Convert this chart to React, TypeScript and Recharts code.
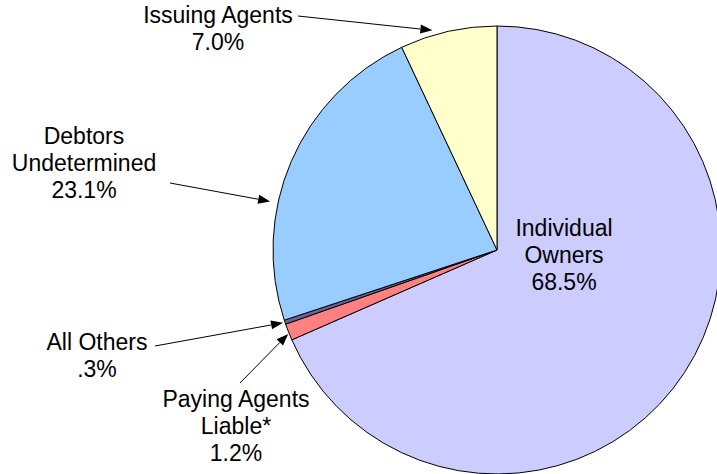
import { PieChart, Pie, Cell } from 'recharts'

const categories = ['Individual Owners', 'Paying Agents Liable*', 'All Others', 'Debtors Undetermined', 'Issuing Agents']
const shares = [68.5, 1.2, 0.3, 23.1, 7.0]
const shareLabels = ['68.5%', '1.2%', '.3%', '23.1%', '7.0%']
const nameLines = [['Individual', 'Owners'], ['Paying Agents', 'Liable*'], ['All Others'], ['Debtors', 'Undetermined'], ['Issuing Agents']]
const colors = ['#CCCCFF', '#FF8080', '#666699', '#99CCFF', '#FFFFCC']

// label layout: text anchor (center x, first baseline y), arrow tail, tip angle shift / radius
const textPos = [
  { x: 564, y: 236 },
  { x: 236, y: 407 },
  { x: 97, y: 350 },
  { x: 84, y: 144 },
  { x: 218, y: 23 },
]
const arrowFrom: ({ x: number; y: number } | null)[] = [
  null,
  { x: 240, y: 383 },
  { x: 155, y: 346 },
  { x: 170, y: 183 },
  { x: 298, y: 16 },
]
const tipShift = [0, 0.4, 0, 11.2, 3.8]
const tipGap = [0, 1, 2, 8, 5]

const data = categories.map((name, i) => ({ name, value: shares[i] }))

const RAD = Math.PI / 180
const LINE_H = 27

function renderLabel(props: any) {
  const { cx, cy, midAngle, outerRadius, index } = props
  const lines = [...nameLines[index], shareLabels[index]]
  const pos = textPos[index]
  const from = arrowFrom[index]
  let arrow = null
  if (from) {
    const a = (midAngle + tipShift[index]) * RAD
    const r = outerRadius + tipGap[index]
    const tx = cx + r * Math.cos(a)
    const ty = cy - r * Math.sin(a)
    const dx = tx - from.x
    const dy = ty - from.y
    const len = Math.sqrt(dx * dx + dy * dy)
    const ux = dx / len
    const uy = dy / len
    const hl = 12
    const hw = 4.5
    const bx = tx - ux * hl
    const by = ty - uy * hl
    arrow = (
      <g>
        <line x1={from.x} y1={from.y} x2={bx} y2={by} stroke="#000" strokeWidth={1} />
        <polygon
          points={`${tx},${ty} ${bx - uy * hw},${by + ux * hw} ${bx + uy * hw},${by - ux * hw}`}
          fill="#000"
        />
      </g>
    )
  }
  return (
    <g key={`lbl-${index}`}>
      {arrow}
      <text
        x={pos.x}
        y={pos.y}
        textAnchor="middle"
        fontFamily="'Liberation Sans', Arial, sans-serif"
        fontSize={23}
        fill="#000"
      >
        {lines.map((t, j) => (
          <tspan key={j} x={pos.x} y={pos.y + j * LINE_H}>
            {t}
          </tspan>
        ))}
      </text>
    </g>
  )
}

export default function App() {
  return (
    <div style={{ width: 717, height: 474, background: '#fff' }}>
      <style>{`body{margin:0}`}</style>
      <PieChart width={717} height={474} margin={{ top: 0, right: 0, bottom: 0, left: 0 }}>
        <Pie
          data={data}
          dataKey="value"
          cx={497}
          cy={250}
          outerRadius={224}
          startAngle={90}
          endAngle={-270}
          stroke="#000"
          strokeWidth={1}
          label={renderLabel}
          labelLine={false}
          isAnimationActive={false}
        >
          {data.map((d, i) => (
            <Cell key={d.name} fill={colors[i]} />
          ))}
        </Pie>
      </PieChart>
    </div>
  )
}
